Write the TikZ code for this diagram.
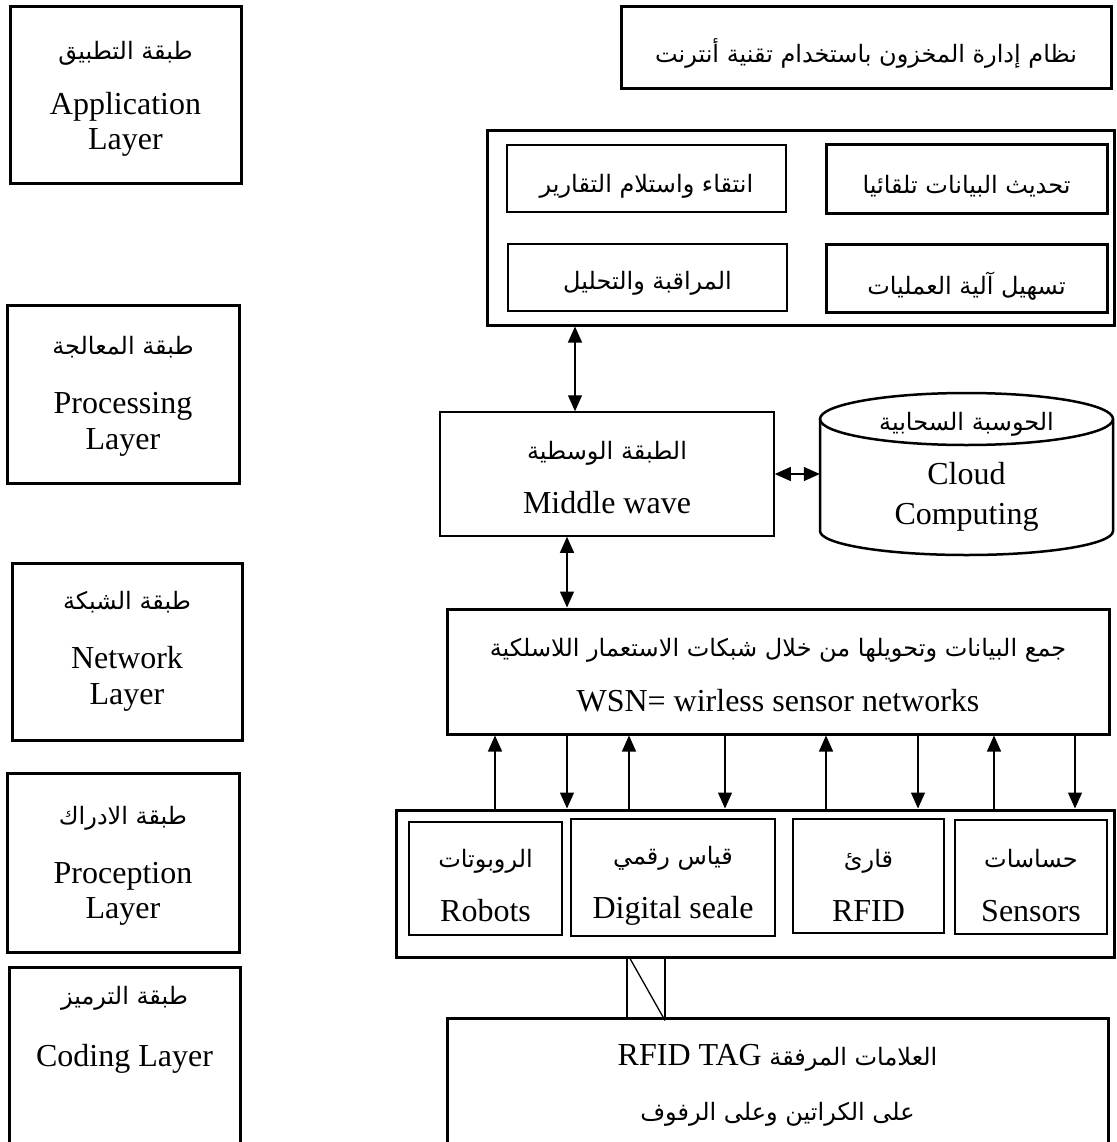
\documentclass[tikz,border=0pt]{standalone}
\usepackage{fontspec}
\setmainfont{Liberation Serif}
\newfontfamily\arabicfont[Script=Arabic]{DejaVu Sans}
\TeXXeTstate=1
\usetikzlibrary{arrows.meta}
\newcommand{\latf}{\rmfamily\fontsize{32}{35}\selectfont}
\newcommand{\arl}[1]{{\arabicfont\fontsize{24}{29}\selectfont\beginR #1\endR}}
\tikzset{
  thickbox/.style={draw, line width=3pt, inner sep=0pt},
  thinbox/.style={draw, line width=1.5pt, inner sep=0pt},
  txt/.style={inner sep=0pt, align=center, font=\latf},
  conn/.style={line width=1.3pt},
  arr/.style={conn, -{Triangle[length=16pt,width=14pt]}},
  darr/.style={conn, {Triangle[length=16pt,width=14pt]}-{Triangle[length=16pt,width=14pt]}},
}
\begin{document}
\begin{tikzpicture}[x=1pt,y=-1pt]
\useasboundingbox (0,0) rectangle (1116,1142);

% left column: layers
\node[thickbox, minimum width=231pt, minimum height=177pt] (appL) at (125.5,95.5) {};
\node[txt] (appT) at (125.5,99) {\arl{طبقة التطبيق}\\[20pt]Application\\Layer};
\node[thickbox, minimum width=232pt, minimum height=178pt] (procL) at (123,394) {};
\node[txt] (procT) at (123,396.5) {\arl{طبقة المعالجة}\\[24pt]Processing\\[1pt]Layer};
\node[thickbox, minimum width=230pt, minimum height=177pt] (netL) at (127,651.5) {};
\node[txt] (netT) at (127,651.5) {\arl{طبقة الشبكة}\\[24pt]Network\\[1pt]Layer};
\node[thickbox, minimum width=232pt, minimum height=179pt] (percL) at (123,862.5) {};
\node[txt] (percT) at (123,866) {\arl{طبقة الادراك}\\[24pt]Proception\\Layer};
\node[thickbox, minimum width=231pt, minimum height=179pt] (codL) at (124.5,1056.5) {};
\node[txt] (codT) at (124.5,1029.5) {\arl{طبقة الترميز}\\[27pt]Coding Layer};

% title
\node[thickbox, minimum width=490pt, minimum height=82pt] (title) at (866,48) {};
\node[txt] (titleT) at (866,53.5) {\arl{نظام إدارة المخزون باستخدام تقنية أنترنت}};

% application functions
\node[thickbox, minimum width=627pt, minimum height=194pt] (funcs) at (800.5,228) {};
\node[thinbox, minimum width=279pt, minimum height=67pt] (f1) at (646.5,178.5) {};
\node[txt] (f1T) at (646.5,186) {\arl{انتقاء واستلام التقارير}};
\node[thickbox, minimum width=281pt, minimum height=68pt] (f2) at (966.5,179) {};
\node[txt] (f2T) at (966.5,186) {\arl{تحديث البيانات تلقائيا}};
\node[thinbox, minimum width=279pt, minimum height=67pt] (f3) at (647.5,277.5) {};
\node[txt] (f3T) at (647.5,283.5) {\arl{المراقبة والتحليل}};
\node[thickbox, minimum width=281pt, minimum height=68pt] (f4) at (966.5,278) {};
\node[txt] (f4T) at (966.5,286) {\arl{تسهيل آلية العمليات}};

% middle ware and cloud
\node[thinbox, minimum width=334pt, minimum height=124pt] (mid) at (607,474) {};
\node[txt] (midT) at (607,477.5) {\arl{الطبقة الوسطية}\\[19pt]Middle wave};
\node[inner sep=0pt, minimum width=293pt, minimum height=162pt] (cloud) at (966.5,474) {};
\draw[line width=2.5pt] (820,419) -- (820,531)
  arc[start angle=180, end angle=360, x radius=146.5pt, y radius=24pt] -- (1113,419);
\draw[line width=2.5pt] (966.5,419) ellipse [x radius=146.5pt, y radius=26pt];
\node[txt] (cloudAr) at (966.5,424) {\arl{الحوسبة السحابية}};
\node[txt] (cloudEn) at (966.5,496.5) {Cloud\\[5pt]Computing};

% WSN
\node[thickbox, minimum width=662pt, minimum height=125pt] (wsn) at (778,671.5) {};
\node[txt] (wsnT) at (778,675) {\arl{جمع البيانات وتحويلها من خلال شبكات الاستعمار اللاسلكية}\\[20pt]WSN= wirless sensor networks};

% perception devices
\node[thickbox, minimum width=718pt, minimum height=147pt] (perc) at (755,883.5) {};
\node[thinbox, minimum width=153pt, minimum height=113pt] (rob) at (485.5,878.5) {};
\node[txt] (robT) at (485.5,885.5) {\arl{الروبوتات}\\[19pt]Robots};
\node[thinbox, minimum width=204pt, minimum height=117pt] (dig) at (673,877.5) {};
\node[txt] (digT) at (673,885.5) {\arl{قياس رقمي}\\[19pt]Digital seale};
\node[thinbox, minimum width=151pt, minimum height=114pt] (rfid) at (868.5,876) {};
\node[txt] (rfidT) at (868.5,885.5) {\arl{قارئ}\\[19pt]RFID};
\node[thinbox, minimum width=152pt, minimum height=114pt] (sens) at (1031,877) {};
\node[txt] (sensT) at (1031,885.5) {\arl{حساسات}\\[19pt]Sensors};

% RFID tags
\node[thickbox, minimum width=661pt, minimum height=128pt] (tag) at (777.5,1082) {};
\node[txt] (tagT) at (777.5,1085) {\arl{العلامات المرفقة {\latf\beginL RFID TAG\endL}}\\[20pt]\arl{على الكراتين وعلى الرفوف}};

% column coordinates
\coordinate (c575) at (575,0);
\coordinate (c567) at (567,0);
\coordinate (c495) at (495,0);
\coordinate (c629) at (629,0);
\coordinate (c725) at (725,0);
\coordinate (c826) at (826,0);
\coordinate (c918) at (918,0);
\coordinate (c994) at (994,0);
\coordinate (c1075) at (1075,0);
\coordinate (c627) at (627,0);
\coordinate (c630) at (630,0);
\coordinate (c665) at (665,0);

% connectors
\draw[darr] (funcs.south -| c575) -- (mid.north -| c575);
\draw[darr] (mid.south -| c567) -- (wsn.north -| c567);
\draw[darr] (mid.east) -- (mid.east -| cloud.west);

\draw[arr] (perc.north -| c495) -- (wsn.south -| c495);
\draw[arr] (wsn.south -| c567) -- (perc.north -| c567);
\draw[arr] (perc.north -| c629) -- (wsn.south -| c629);
\draw[arr] (wsn.south -| c725) -- (perc.north -| c725);
\draw[arr] (perc.north -| c826) -- (wsn.south -| c826);
\draw[arr] (wsn.south -| c918) -- (perc.north -| c918);
\draw[arr] (perc.north -| c994) -- (wsn.south -| c994);
\draw[arr] (wsn.south -| c1075) -- (perc.north -| c1075);

\draw[conn] (perc.south -| c627) -- (tag.north -| c627);
\draw[conn] (perc.south -| c665) -- (tag.north -| c665);
\draw[conn] (perc.south -| c630) -- ([yshift=-4pt]tag.north -| c665);
\end{tikzpicture}
\end{document}
